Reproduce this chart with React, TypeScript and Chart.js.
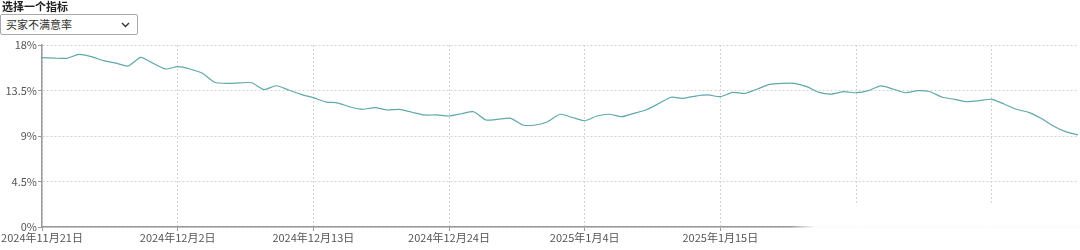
import React, { useEffect, useRef } from "react";
import { Chart, registerables } from "chart.js";

Chart.register(...registerables);

const TITLE = "选择一个指标";
const METRIC = "买家不满意率";

// daily categories starting 2024-11-21
const START_DATE = [2024, 11, 21];
const DAY_COUNT = 85;
const TICK_EVERY = 11;
const HIDDEN_TICK_FROM = 66;

const VALUES = [
  16.75, 16.7, 16.68, 17.08, 16.85, 16.45, 16.2, 15.92, 16.78, 16.2,
  15.63, 15.86, 15.63, 15.2, 14.31, 14.2, 14.25, 14.27, 13.6, 13.97,
  13.55, 13.12, 12.79, 12.38, 12.26, 11.87, 11.64, 11.8, 11.57, 11.64,
  11.35, 11.08, 11.08, 10.98, 11.2, 11.4, 10.58, 10.66, 10.75, 10.09,
  10.09, 10.41, 11.15, 10.83, 10.51, 10.98, 11.15, 10.91, 11.24, 11.6,
  12.2, 12.83, 12.73, 12.95, 13.06, 12.89, 13.32, 13.22, 13.65, 14.11,
  14.21, 14.21, 13.88, 13.32, 13.15, 13.38, 13.28, 13.48, 13.95, 13.65,
  13.28, 13.48, 13.38, 12.83, 12.63, 12.39, 12.49, 12.63, 12.17, 11.64,
  11.34, 10.75, 9.99, 9.43, 9.1,
];

const Y_MIN = 0;
const Y_MAX = 18;
const Y_STEP = 4.5;

function makeLabels(): string[] {
  const out: string[] = [];
  const d = new Date(START_DATE[0], START_DATE[1] - 1, START_DATE[2]);
  for (let i = 0; i < DAY_COUNT; i++) {
    out.push(`${d.getFullYear()}年${d.getMonth() + 1}月${d.getDate()}日`);
    d.setDate(d.getDate() + 1);
  }
  return out;
}
const LABELS = makeLabels();

const FONT = "'Noto Sans CJK SC', 'Noto Sans', sans-serif";

const fadePlugin = {
  id: "fade",
  afterDraw(chart: any) {
    const ctx = chart.ctx;
    const x0 = 790;
    const x1 = 815;
    const g = ctx.createLinearGradient(x0, 0, x1, 0);
    g.addColorStop(0, "rgba(255,255,255,0)");
    g.addColorStop(1, "rgba(255,255,255,0.97)");
    ctx.save();
    ctx.fillStyle = g;
    ctx.fillRect(x0, 205, chart.width - x0, chart.height - 205);
    ctx.restore();
  },
};

export default function App() {
  const ref = useRef<HTMLCanvasElement | null>(null);
  useEffect(() => {
    if (!ref.current) return;
    const chart = new Chart(ref.current, {
      type: "line",
      data: {
        labels: LABELS,
        datasets: [
          {
            data: VALUES,
            borderColor: "#5fa8ae",
            borderWidth: 1.2,
            pointRadius: 0,
            tension: 0.2,
            fill: false,
          },
        ],
      },
      options: {
        animation: false,
        responsive: false,
        maintainAspectRatio: false,
        layout: { padding: { top: 45, left: 0, right: 2, bottom: 0 } },
        plugins: { legend: { display: false }, tooltip: { enabled: false } },
        scales: {
          x: {
            type: "category",
            offset: false,
            afterFit: (s: any) => {
              s.height = 23;
            },
            grid: {
              color: "#d4d4d4",
              tickLength: 4,
              tickColor: "#999",
              tickBorderDash: [],
              drawTicks: true,
            },
            border: { color: "#999", width: 1.5, dash: [2, 2] },
            ticks: {
              autoSkip: false,
              maxRotation: 0,
              minRotation: 0,
              padding: 0,
              color: "#555",
              font: { family: FONT, size: 11 },
              callback: (_v: any, i: number) => {
                if (i % TICK_EVERY !== 0) return null;
                if (i >= HIDDEN_TICK_FROM) return "";
                return LABELS[i];
              },
            },
          },
          y: {
            min: Y_MIN,
            max: Y_MAX,
            afterFit: (s: any) => {
              s.width = 42;
            },
            grid: {
              color: "#d4d4d4",
              tickLength: 4,
              tickColor: "#999",
              tickBorderDash: [],
            },
            border: { color: "#999", width: 1.5, dash: [2, 2] },
            ticks: {
              stepSize: Y_STEP,
              padding: 1,
              color: "#555",
              font: { family: FONT, size: 11 },
              callback: (v: any) => `${v}%`,
            },
          },
        },
      },
      plugins: [fadePlugin],
    } as any);
    return () => chart.destroy();
  }, []);

  return (
    <div
      style={{
        position: "fixed",
        left: 0,
        top: 0,
        width: 1080,
        height: 250,
        background: "#fff",
        fontFamily: FONT,
      }}
    >
      <canvas
        ref={ref}
        width={1080}
        height={250}
        style={{ position: "absolute", left: 0, top: 0, width: 1080, height: 250 }}
      />
      <div
        style={{
          position: "absolute",
          left: 2,
          top: -1,
          fontSize: 11,
          fontWeight: 700,
          color: "#222",
          lineHeight: "14px",
        }}
      >
        {TITLE}
      </div>
      <div
        style={{
          position: "absolute",
          left: 0,
          top: 14,
          width: 138,
          height: 21,
          border: "1px solid #aaa",
          borderRadius: 2,
          background: "#fff",
          boxSizing: "border-box",
          fontSize: 11,
          color: "#333",
          lineHeight: "19px",
          paddingLeft: 5,
        }}
      >
        {METRIC}
        <svg
          width="9"
          height="6"
          viewBox="0 0 9 6"
          style={{ position: "absolute", right: 7, top: 7 }}
        >
          <path d="M1 1 L4.5 4.5 L8 1" stroke="#333" strokeWidth="1.4" fill="none" />
        </svg>
      </div>
    </div>
  );
}
